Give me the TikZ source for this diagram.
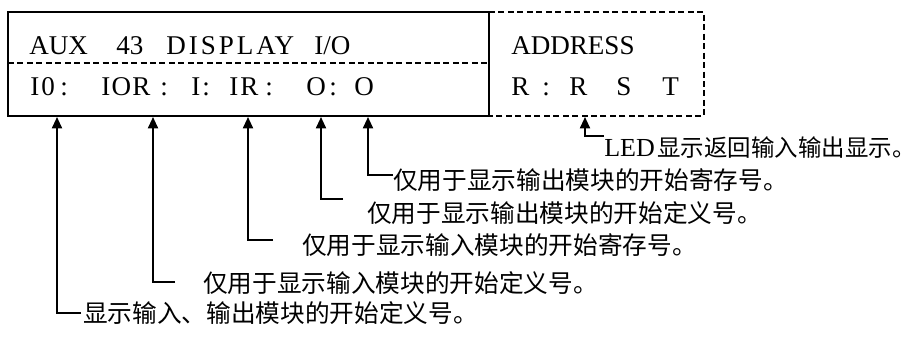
\documentclass[tikz,border=0pt]{standalone}
\usepackage{fontspec}
\setmainfont{Liberation Serif}
\newfontfamily\cjk{Noto Sans CJK SC}
\usetikzlibrary{arrows.meta}
\tikzset{
  lat/.style={anchor=base west,inner sep=0pt,font=\fontsize{20.3pt}{24pt}\selectfont},
  zh/.style={anchor=west,inner sep=0pt,font=\fontsize{18.5pt}{22pt}\selectfont\cjk},
  solidline/.style={line width=1.4pt},
  dashline/.style={line width=1.3pt,dash pattern=on 4.5pt off 2.6pt},
  arr/.style={line width=1.4pt,-{Triangle[width=7.5pt,length=8.5pt]}}
}
\begin{document}
\begin{tikzpicture}[x=0.75pt,y=-0.75pt]
\useasboundingbox (0,0) rectangle (910,336);
% boxes
\draw[solidline] (8,12) rectangle (489,116);
\draw[dashline] (489,12) -- (704,12) -- (704,116) -- (489,116);
\draw[dashline] (8,63) -- (489,63);
% row 1
\node[lat] (aux) at (29,54) {AUX};
\node[lat] (n43) at (116,54) {43};
\node[lat] (disp) at (166,54) {\addfontfeature{LetterSpace=11}DISPLA\kern-1ptY};
\node[lat] (io) at (314,54) {I/O};
\node[lat] (addr) at (511,54) {ADDRESS};
% row 2
\node[lat] (r1) at (30,95) {I\kern1.5pt 0};
\node[lat] (c1) at (60,95) {:};
\node[lat] (r2) at (101,95) {I\kern1pt O\kern1pt R};
\node[lat] (c2) at (160,95) {:};
\node[lat] (r3) at (191,95) {I};
\node[lat] (c3) at (202,95) {:};
\node[lat] (r4) at (229,95) {I\kern1.5pt R};
\node[lat] (c4) at (265,95) {:};
\node[lat] (r5) at (306,95) {O};
\node[lat] (c5) at (329,95) {:};
\node[lat] (r6) at (354,95) {O};
\node[lat] (s1) at (511,95) {R};
\node[lat] (s2) at (542,95) {:};
\node[lat] (s3) at (569,95) {R};
\node[lat] (s4) at (616,95) {S};
\node[lat] (s5) at (662,95) {T};
% arrow targets
\coordinate (p1) at (57,117);
\coordinate (p2) at (153,117);
\coordinate (p3) at (248,117);
\coordinate (p4) at (321,117);
\coordinate (p5) at (368,117);
\coordinate (p6) at (585,117);
% labels
\node[zh] (t1) at (83,313) {显示输入、输出模块的开始定义号。};
\node[zh] (t2) at (203,283) {仅用于显示输入模块的开始定义号。};
\node[zh] (t3) at (302,245) {仅用于显示输入模块的开始寄存号。};
\node[zh] (t4) at (367,213) {仅用于显示输出模块的开始定义号。};
\node[zh] (t5) at (393,180) {仅用于显示输出模块的开始寄存号。};
\node[zh,font=\fontsize{17.6pt}{21pt}\selectfont\cjk] (t6) at (604,148) {{\fontsize{19.5pt}{24pt}\selectfont\rmfamily LED}\kern2pt 显示返回输入输出显示。};
% connector ends
\coordinate (e1) at (81,313);
\coordinate (e2) at (175,282);
\coordinate (e3) at (273,240);
\coordinate (e4) at (343,199);
\coordinate (e5) at (393,175);
\coordinate (e6) at (604,136);
\draw[arr] (e1) -| (p1);
\draw[arr] (e2) -| (p2);
\draw[arr] (e3) -| (p3);
\draw[arr] (e4) -| (p4);
\draw[arr] (e5) -| (p5);
\draw[arr] (e6) -| (p6);
\end{tikzpicture}
\end{document}
